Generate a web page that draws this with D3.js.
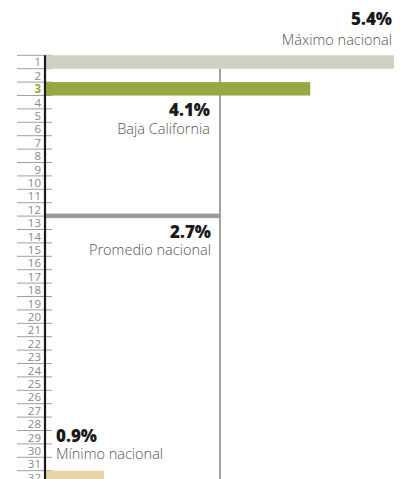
<!DOCTYPE html>
<html>
<head>
<meta charset="utf-8">
<script src="https://cdn.jsdelivr.net/npm/d3@7"></script>
<style>
  html, body { margin: 0; padding: 0; background: #fff; }
  svg { display: block; }
  text { font-family: "Open Sans", "Noto Sans", sans-serif; }
</style>
</head>
<body>
<svg id="chart" width="400" height="479"></svg>
<script>
const ranks = d3.range(1, 33);
const highlightRank = 3;

const bars = [
  { key: "max", rank: 1, value: 5.4, color: "#cdd0c3" },
  { key: "bc", rank: 3, value: 4.1, color: "#95a842" },
  { key: "min", rank: 32, value: 0.9, color: "#e9d5a4" },
];
const average = { value: 2.7, afterRank: 12 };

const labels = [
  { key: "max", pct: "5.4%", name: "Máximo nacional" },
  { key: "bc", pct: "4.1%", name: "Baja California" },
  { key: "avg", pct: "2.7%", name: "Promedio nacional" },
  { key: "min", pct: "0.9%", name: "Mínimo nacional" },
];

const svg = d3.select("#chart");

const rowH = 13.4;
const rowTop = 55.3;
const x = d3.scaleLinear().domain([0, 5.4]).range([46, 394]);
const y = d3.scaleBand().domain(ranks).range([rowTop, rowTop + rowH * ranks.length]);

// row separators
svg.append("g")
  .selectAll("line")
  .data(ranks)
  .enter()
  .append("line")
  .attr("x1", 17)
  .attr("x2", 52)
  .attr("y1", (d) => y(d))
  .attr("y2", (d) => y(d))
  .attr("stroke", "#a0a0a0")
  .attr("stroke-width", 1);

// rank numbers
svg.append("g")
  .selectAll("text")
  .data(ranks)
  .enter()
  .append("text")
  .attr("x", 41)
  .attr("y", (d) => y(d) + y.bandwidth() / 2 + 4.3)
  .attr("text-anchor", "end")
  .attr("font-size", 11.5)
  .attr("font-family", "'Liberation Sans Narrow', 'DejaVu Sans Condensed', sans-serif")
  .attr("font-weight", (d) => (d === highlightRank ? 700 : 400))
  .attr("fill", (d) => (d === highlightRank ? "#95a842" : "#8a8a8a"))
  .text((d) => d);

// average reference line
svg.append("line")
  .attr("x1", x(average.value))
  .attr("x2", x(average.value))
  .attr("y1", y(2))
  .attr("y2", 479)
  .attr("stroke", "#444")
  .attr("stroke-width", 1);

// bars
svg.append("g")
  .selectAll("rect")
  .data(bars)
  .enter()
  .append("rect")
  .attr("x", x(0))
  .attr("y", (d) => y(d.rank))
  .attr("width", (d) => x(d.value) - x(0))
  .attr("height", y.bandwidth())
  .attr("fill", (d) => d.color);

// average bar
svg.append("rect")
  .attr("x", x(0))
  .attr("y", y(average.afterRank + 1) - 2.5)
  .attr("width", x(average.value) - x(0))
  .attr("height", 4.5)
  .attr("fill", "#9a9a9a");

// axis line
svg.append("line")
  .attr("x1", 45)
  .attr("x2", 45)
  .attr("y1", y(1))
  .attr("y2", 479)
  .attr("stroke", "#1a1a1a")
  .attr("stroke-width", 2.2);

// annotations
const lbl = svg.append("g");
const place = {
  max: { anchor: "end", at: 5.4, dx: -2, pctY: 25, nameY: 45 },
  bc: { anchor: "end", at: 2.7, dx: -10, pctY: 116, nameY: 134 },
  avg: { anchor: "end", at: 2.7, dx: -9, pctY: 238, nameY: 255 },
  min: { anchor: "start", at: 0, dx: 10, pctY: 442, nameY: 459 },
};
labels.forEach((d) => {
  const p = place[d.key];
  const px = x(p.at) + p.dx;
  lbl.append("text")
    .attr("x", px)
    .attr("y", p.pctY)
    .attr("text-anchor", p.anchor)
    .attr("font-size", 17)
    .attr("font-weight", 800)
    .attr("fill", "#1a1a1a")
    .text(d.pct);
  lbl.append("text")
    .attr("x", px)
    .attr("y", p.nameY)
    .attr("text-anchor", p.anchor)
    .attr("font-size", 14.5)
    .attr("font-weight", 300)
    .attr("fill", "#555")
    .text(d.name);
});
</script>
</body>
</html>
